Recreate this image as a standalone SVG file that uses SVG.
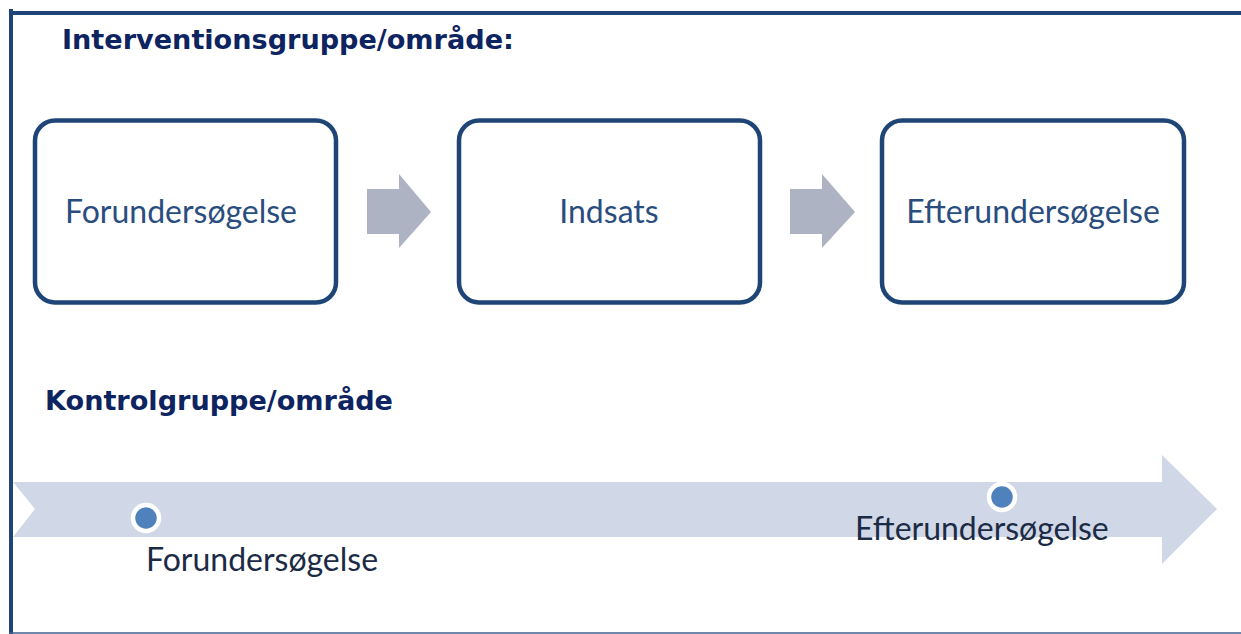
<svg xmlns="http://www.w3.org/2000/svg" width="1241" height="634" viewBox="0 0 1241 634">
<style>
.hdr{font-family:"DejaVu Sans",Verdana,sans-serif;font-weight:bold;font-size:27.1px;fill:#0d2461}
.box rect{fill:#ffffff;stroke:#1f4577;stroke-width:4.5}
.box text{font-family:Lato,"Open Sans",sans-serif;font-size:32px;fill:#2a4d80;text-anchor:middle}
.lbl{font-family:Lato,"Open Sans",sans-serif;font-size:32px;fill:#1c2b45}
.step{fill:#adb3c3}
.dot{fill:#4f81bd;stroke:#ffffff;stroke-width:4.5}
</style>
<rect width="1241" height="634" fill="#ffffff"/>
<g id="frame">
<line x1="11" y1="9" x2="11" y2="634" stroke="#1f4577" stroke-width="4"/>
<line x1="9" y1="13" x2="1241" y2="13" stroke="#1f4577" stroke-width="4"/>
<line x1="9" y1="633" x2="1241" y2="633" stroke="#3f5f8f" stroke-width="1.5"/>
</g>
<text class="hdr" x="62" y="49">Interventionsgruppe/område:</text>
<text class="hdr" x="45" y="410">Kontrolgruppe/område</text>
<g id="timeline">
<polygon points="13,482 1162,482 1162,455 1217,509 1162,564 1162,537 13,537 35,509" fill="#d0d8e7"/>
</g>
<g id="connectors">
<polygon class="step" points="367,189 399,189 399,174 431,212 399,248 399,234 367,234"/>
<polygon class="step" points="790,189 822,189 822,174 855,212 822,248 822,234 790,234"/>
</g>
<g id="node-forundersoegelse" class="box">
<rect x="35" y="120.5" width="301" height="182" rx="20"/>
<text x="181" y="223">Forundersøgelse</text>
</g>
<g id="node-indsats" class="box">
<rect x="459" y="120.5" width="301" height="182" rx="20"/>
<text x="609" y="223">Indsats</text>
</g>
<g id="node-efterundersoegelse" class="box">
<rect x="882" y="120.5" width="302" height="182" rx="20"/>
<text x="1033" y="223">Efterundersøgelse</text>
</g>
<g id="ctrl-forundersoegelse">
<circle class="dot" cx="146" cy="518" r="13"/>
<text class="lbl" x="146" y="571">Forundersøgelse</text>
</g>
<g id="ctrl-efterundersoegelse">
<circle class="dot" cx="1002" cy="497" r="13"/>
<text class="lbl" x="855" y="540">Efterundersøgelse</text>
</g>
</svg>
